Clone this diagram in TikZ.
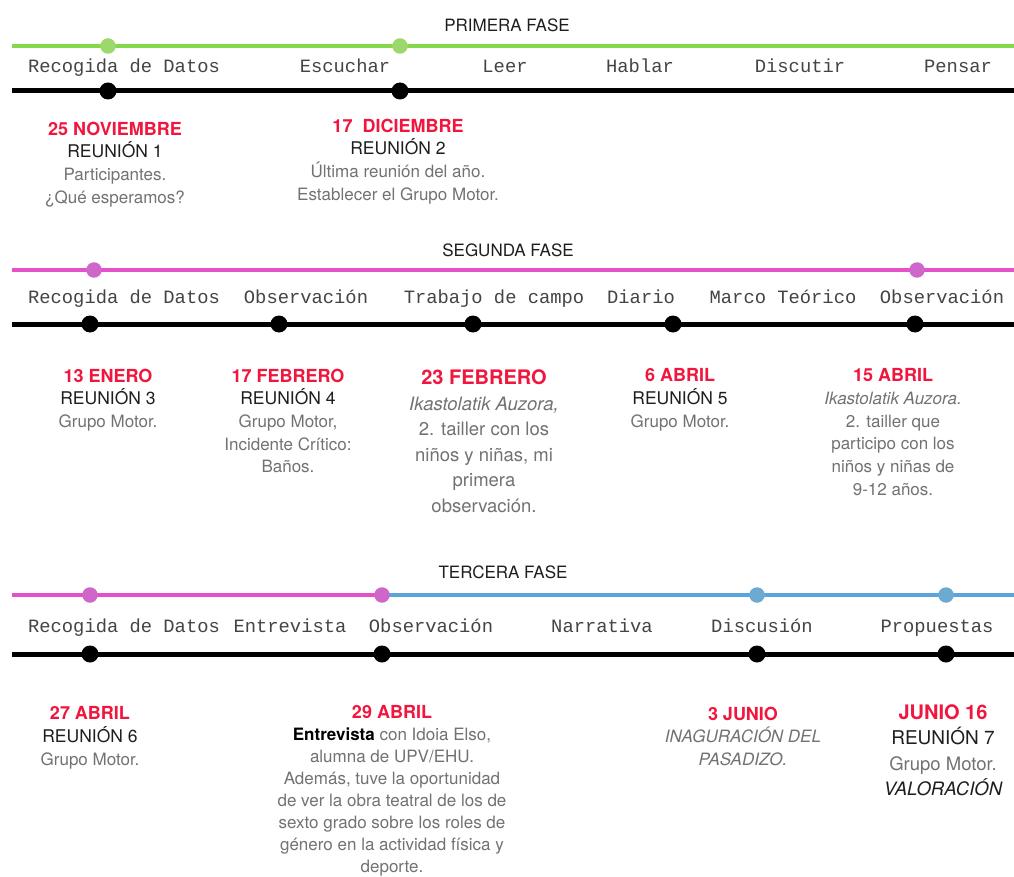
\documentclass[tikz,border=0pt]{standalone}
\usepackage{fontspec}
\setmainfont{TeX Gyre Heros}
\newfontfamily\monof{Liberation Mono}
\definecolor{fgreen}{HTML}{84D84C}
\definecolor{fgreendot}{HTML}{9CD86C}
\definecolor{fmag}{HTML}{E552C8}
\definecolor{fmagdot}{HTML}{CF66C9}
\definecolor{fblue}{HTML}{5AA5DD}
\definecolor{fbluedot}{HTML}{6DAAD2}
\definecolor{datered}{HTML}{F0163E}
\definecolor{bodygray}{HTML}{727272}
\definecolor{headblack}{HTML}{1E1E1E}
\definecolor{labgray}{HTML}{444444}
\newcommand\dte[1]{{\color{datered}\bfseries\fontsize{18}{22.7}\selectfont #1}}
\newcommand\dtebig[1]{{\color{datered}\bfseries\fontsize{20}{25.5}\selectfont #1}}
\newcommand\reu[1]{{\color{headblack}\fontsize{17.5}{22.7}\selectfont #1}}
\newcommand\reubig[1]{{\color{headblack}\fontsize{19}{25.5}\selectfont #1}}
\tikzset{
  phase/.style={font=\fontsize{17}{20}\selectfont, text=headblack, inner sep=0},
  lab/.style={font=\monof\fontsize{18.8}{20}\selectfont, text=labgray, inner sep=0, anchor=base},
  blk/.style={align=center, inner sep=0, anchor=north, text=bodygray, font=\fontsize{17}{22.7}\selectfont},
  blktight/.style={blk, font=\fontsize{17}{21.9}\selectfont},
  blkbig/.style={align=center, inner sep=0, anchor=north, text=bodygray, font=\fontsize{18.5}{25.5}\selectfont},
  cline/.style={line width=3.5},
  bline/.style={line width=5, black},
  cdot/.style={circle, inner sep=0, minimum size=15.5},
  bdot/.style={circle, fill=black, inner sep=0, minimum size=17}
}
\begin{document}
\begin{tikzpicture}[x=1pt,y=-1pt]
\useasboundingbox[fill=white] (0,0) rectangle (1014,877);

% ---------- PRIMERA FASE ----------
\node[phase] (ph1) at (507,25) {PRIMERA FASE};
\coordinate (g1s) at (12,46); \coordinate (g1e) at (1014,46);
\draw[cline, fgreen] (g1s) -- (g1e);
\node[cdot, fill=fgreendot] (gd1) at (108,46) {};
\node[cdot, fill=fgreendot] (gd2) at (400,46) {};
\node[lab] (l11) at (124,72.5) {Recogida de Datos};
\node[lab] (l12) at (345,72.5) {Escuchar};
\node[lab] (l13) at (505,72.5) {Leer};
\node[lab] (l14) at (640,72.5) {Hablar};
\node[lab] (l15) at (800,72.5) {Discutir};
\node[lab] (l16) at (958,72.5) {Pensar};
\coordinate (k1s) at (12,91); \coordinate (k1e) at (1014,91);
\draw[bline] (k1s) -- (k1e);
\node[bdot] (kd11) at (108,91) {};
\node[bdot] (kd12) at (400,91) {};
\node[blk] (b11) at (115,121.5) {\dte{25 NOVIEMBRE}\\\reu{REUNIÓN 1}\\Participantes.\\¿Qué esperamos?};
\node[blk] (b12) at (398,118.5) {\dte{17\ \ DICIEMBRE}\\\reu{REUNIÓN 2}\\Última reunión del año.\\Establecer el Grupo Motor.};

% ---------- SEGUNDA FASE ----------
\node[phase] (ph2) at (508,250) {SEGUNDA FASE};
\coordinate (m2s) at (12,270); \coordinate (m2e) at (1014,270);
\draw[cline, fmag] (m2s) -- (m2e);
\node[cdot, fill=fmagdot] (md21) at (94,270) {};
\node[cdot, fill=fmagdot] (md22) at (917,270) {};
\node[lab] (l21) at (124,303) {Recogida de Datos};
\node[lab] (l22) at (306,303) {Observación};
\node[lab] (l23) at (494,303) {Trabajo de campo};
\node[lab] (l24) at (641,303) {Diario};
\node[lab] (l25) at (783,303) {Marco Teórico};
\node[lab] (l26) at (942,303) {Observación};
\coordinate (k2s) at (12,324); \coordinate (k2e) at (1014,324);
\draw[bline] (k2s) -- (k2e);
\node[bdot] (kd21) at (90,324) {};
\node[bdot] (kd22) at (279,324) {};
\node[bdot] (kd23) at (473,324) {};
\node[bdot] (kd24) at (673,324) {};
\node[bdot] (kd25) at (915,324) {};
\node[blk] (b21) at (108,368.5) {\dte{13 ENERO}\\\reu{REUNIÓN 3}\\Grupo Motor.};
\node[blk] (b22) at (288,368.5) {\dte{17 FEBRERO}\\\reu{REUNIÓN 4}\\Grupo Motor,\\Incidente Crítico:\\Baños.};
\node[blkbig] (b23) at (484,369.5) {\dtebig{23 FEBRERO}\\\textit{Ikastolatik Auzora,}\\2. tailler con los\\niños y niñas, mi\\primera\\observación.};
\node[blk] (b24) at (680,368.5) {\dte{6 ABRIL}\\\reu{REUNIÓN 5}\\Grupo Motor.};
\node[blk] (b25) at (893,368.5) {\dte{15 ABRIL}\\\textit{Ikastolatik Auzora.}\\2. tailler que\\participo con los\\niños y niñas de\\9-12 años.};

% ---------- TERCERA FASE ----------
\node[phase] (ph3) at (503,572) {TERCERA FASE};
\coordinate (m3s) at (12,595); \coordinate (m3m) at (382,595); \coordinate (m3e) at (1014,595);
\draw[cline, fmag] (m3s) -- (m3m);
\draw[cline, fblue] (m3m) -- (m3e);
\node[cdot, fill=fmagdot] (md31) at (90,595) {};
\node[cdot, fill=fmagdot] (md32) at (m3m) {};
\node[cdot, fill=fbluedot] (bd33) at (757,595) {};
\node[cdot, fill=fbluedot] (bd34) at (946,595) {};
\node[lab] (l31) at (124,632) {Recogida de Datos};
\node[lab] (l32) at (290,632) {Entrevista};
\node[lab] (l33) at (431,632) {Observación};
\node[lab] (l34) at (602,632) {Narrativa};
\node[lab] (l35) at (762,632) {Discusión};
\node[lab] (l36) at (937,632) {Propuestas};
\coordinate (k3s) at (12,654); \coordinate (k3e) at (1014,654);
\draw[bline] (k3s) -- (k3e);
\node[bdot] (kd31) at (90,654) {};
\node[bdot] (kd32) at (382,654) {};
\node[bdot] (kd33) at (757,654) {};
\node[bdot] (kd34) at (946,654) {};
\node[blk] (b31) at (90,706.5) {\dte{27 ABRIL}\\\reu{REUNIÓN 6}\\Grupo Motor.};
\node[blktight] (b32) at (392,705.5) {\dte{29 ABRIL}\\{\color{black}\bfseries Entrevista} con Idoia Elso,\\alumna de UPV/EHU.\\Además, tuve la oportunidad\\de ver la obra teatral de los de\\sexto grado sobre los roles de\\género en la actividad física y\\deporte.};
\node[blk] (b33) at (743,706.5) {\dte{3 JUNIO}\\\textit{INAGURACIÓN DEL}\\\textit{PASADIZO.}};
\node[blkbig] (b34) at (943,704) {\dtebig{JUNIO 16}\\\reubig{REUNIÓN 7}\\Grupo Motor.\\{\color{headblack}\itshape VALORACIÓN}};
\end{tikzpicture}
\end{document}
